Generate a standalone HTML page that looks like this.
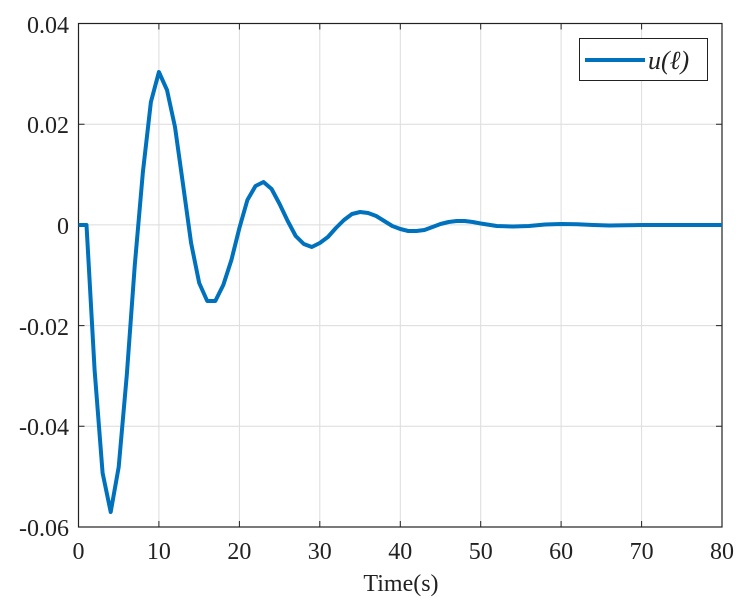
<!DOCTYPE html>
<html><head><style>body{margin:0;background:#fff}svg{display:block}</style></head><body>
<svg width="752" height="608" xmlns="http://www.w3.org/2000/svg" font-family="Liberation Serif, serif">
<rect width="752" height="608" fill="#fff"/>
<g stroke="#dcdcdc" stroke-width="1">
<line x1="158.9" y1="23.5" x2="158.9" y2="527"/><line x1="239.4" y1="23.5" x2="239.4" y2="527"/>
<line x1="319.8" y1="23.5" x2="319.8" y2="527"/><line x1="400.3" y1="23.5" x2="400.3" y2="527"/>
<line x1="480.7" y1="23.5" x2="480.7" y2="527"/><line x1="561.1" y1="23.5" x2="561.1" y2="527"/>
<line x1="641.6" y1="23.5" x2="641.6" y2="527"/>
<line x1="78.5" y1="124.2" x2="722" y2="124.2"/><line x1="78.5" y1="224.9" x2="722" y2="224.9"/>
<line x1="78.5" y1="325.6" x2="722" y2="325.6"/><line x1="78.5" y1="426.3" x2="722" y2="426.3"/>
</g>
<rect x="78.5" y="23.5" width="643.5" height="503.5" fill="none" stroke="#222" stroke-width="1.2"/>
<g stroke="#222" stroke-width="1">
<path d="M158.9 527v-6M239.4 527v-6M319.8 527v-6M400.3 527v-6M480.7 527v-6M561.1 527v-6M641.6 527v-6"/>
<path d="M158.9 23.5v6M239.4 23.5v6M319.8 23.5v6M400.3 23.5v6M480.7 23.5v6M561.1 23.5v6M641.6 23.5v6"/>
<path d="M78.5 124.2h6M78.5 224.9h6M78.5 325.6h6M78.5 426.3h6M722 124.2h-6M722 224.9h-6M722 325.6h-6M722 426.3h-6"/>
</g>
<polyline fill="none" stroke="#0072BD" stroke-width="4" stroke-linejoin="round" points="
78.5,225 86.5,225 94.6,370 102.6,473 110.7,512 118.7,467 126.8,375 134.8,265 142.9,172 150.9,102 158.9,72 167,90 175,127 183.1,185 191.1,243 199.2,283 207.2,301 215.3,301 223.3,285 231.4,260 239.4,228 247.4,200 255.5,186 263.5,182 271.6,189 279.6,204 287.7,221 295.7,236 303.8,244 311.8,247 319.8,243 327.9,237 335.9,228 344,220 352,214 360.1,212 368.1,213 376.2,216 384.2,221 392.3,226 400.3,229 408.3,231 416.4,231 424.4,230 432.5,227 440.5,224 448.6,222 456.6,221 464.7,221 472.7,222 480.7,223.5 496.8,226 512.9,226.5 529,226 545.1,224.5 561.1,224 577.2,224.3 593.3,225 609.4,225.5 625.5,225.3 641.6,225 722,225"/>
<g font-size="24" fill="#222" text-anchor="end">
<text x="69" y="33">0.04</text><text x="69" y="133">0.02</text><text x="69" y="234">0</text>
<text x="69" y="335">-0.02</text><text x="69" y="435">-0.04</text><text x="69" y="536">-0.06</text>
</g>
<g font-size="24" fill="#222" text-anchor="middle">
<text x="78.5" y="559">0</text><text x="158.9" y="559">10</text><text x="239.4" y="559">20</text>
<text x="319.8" y="559">30</text><text x="400.3" y="559">40</text><text x="480.7" y="559">50</text>
<text x="561.1" y="559">60</text><text x="641.6" y="559">70</text><text x="722" y="559">80</text>
<text x="401" y="591">Time(s)</text>
</g>
<rect x="579.5" y="38.5" width="128" height="42" fill="#fff" stroke="#222" stroke-width="1"/>
<line x1="585" y1="60" x2="645" y2="60" stroke="#0072BD" stroke-width="4"/>
<text x="648" y="69" font-size="26" font-style="italic" fill="#222">u(ℓ)</text>
</svg>
</body></html>
